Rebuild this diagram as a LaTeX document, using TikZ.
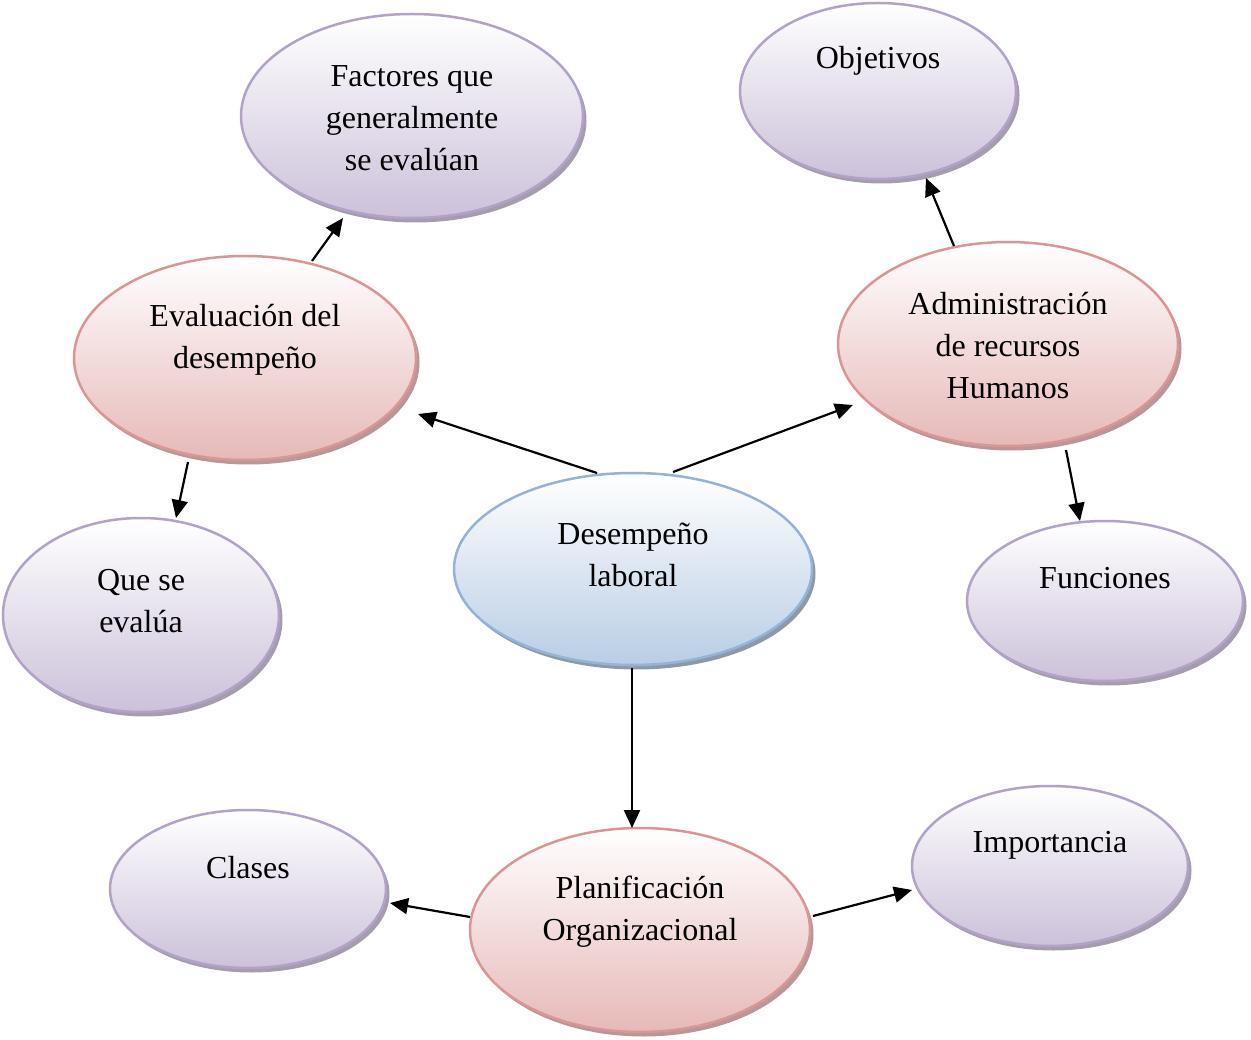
\documentclass[tikz,border=0pt]{standalone}
\usepackage{fontspec}
\setmainfont{Liberation Serif}
\usetikzlibrary{shapes.geometric,shadows,arrows.meta,calc}
\definecolor{pborder}{HTML}{B2A2C7}
\definecolor{pfill}{HTML}{CCC1DA}
\definecolor{rborder}{HTML}{D99694}
\definecolor{rfill}{HTML}{E6B9B8}
\definecolor{bborder}{HTML}{95B3D7}
\definecolor{bfill}{HTML}{B9CDE5}
\tikzset{
  ell/.style={ellipse, line width=2.5pt, outer sep=0pt, inner sep=0pt},
  purp/.style={ell, draw=pborder, top color=white, bottom color=pfill,
    drop shadow={shadow xshift=3.5pt, shadow yshift=-4.5pt, fill=pborder!65!black, opacity=0.65}},
  redd/.style={ell, draw=rborder, top color=white, bottom color=rfill,
    drop shadow={shadow xshift=3.5pt, shadow yshift=-4.5pt, fill=rborder!65!black, opacity=0.65}},
  blue/.style={ell, draw=bborder, top color=white, bottom color=bfill,
    drop shadow={shadow xshift=3.5pt, shadow yshift=-4.5pt, fill=bborder!55!black, opacity=0.65}},
  txt/.style={align=center, font=\fontsize{32}{42}\selectfont, inner sep=0pt},
  arr/.style={line width=2.2pt, -{Triangle[length=18pt,width=16pt]}}
}
\begin{document}
\begin{tikzpicture}[x=1pt,y=-1pt]
\useasboundingbox (0,0) rectangle (1251,1040);
% nodes
\node[purp, minimum width=342pt, minimum height=204pt,
  label={[txt, yshift=-2pt]center:Factores que\\generalmente\\se evalúan}] (fa) at (412,116) {};
\node[purp, minimum width=276pt, minimum height=176pt,
  label={[txt, yshift=30pt]center:Objetivos}] (ob) at (878,91) {};
\node[redd, minimum width=342pt, minimum height=204pt,
  label={[txt, yshift=18pt]center:Evaluación del\\desempeño}] (ev) at (245,358) {};
\node[redd, minimum width=340pt, minimum height=204pt,
  label={[txt, yshift=-2pt]center:Administración\\de recursos\\Humanos}] (ad) at (1008,344) {};
\node[purp, minimum width=276pt, minimum height=194pt,
  label={[txt, yshift=14pt]center:Que se\\evalúa}] (qs) at (141,615) {};
\node[blue, minimum width=358pt, minimum height=192pt,
  label={[txt, yshift=14pt]center:Desempeño\\laboral}] (dl) at (633,569) {};
\node[purp, minimum width=276pt, minimum height=160pt,
  label={[txt, yshift=23pt]center:Funciones}] (fu) at (1105,601) {};
\node[purp, minimum width=276pt, minimum height=158pt,
  label={[txt, yshift=21pt]center:Clases}] (cl) at (248,889) {};
\node[redd, minimum width=340pt, minimum height=204pt,
  label={[txt, yshift=18pt]center:Planificación\\Organizacional}] (pl) at (640,930) {};
\node[purp, minimum width=276pt, minimum height=160pt,
  label={[txt, yshift=21pt]center:Importancia}] (im) at (1050,866) {};
% connectors
\draw[arr] ($(dl.center)+(-36,-96)$) -- ($(ev.center)+(173,56)$);
\draw[arr] ($(dl.center)+(40,-97)$) -- ($(ad.center)+(-155,61)$);
\draw[arr] ($(dl.center)+(-1,99)$) -- ($(pl.center)+(-8,-102)$);
\draw[arr] ($(ev.center)+(67,-97)$) -- ($(fa.center)+(-69,102)$);
\draw[arr] ($(ev.center)+(-57,104)$) -- ($(qs.center)+(35,-97)$);
\draw[arr] ($(ad.center)+(-54,-98)$) -- ($(ob.center)+(48,87)$);
\draw[arr] ($(ad.center)+(58,106)$) -- ($(fu.center)+(-25,-80)$);
\draw[arr] ($(pl.center)+(-170,-13)$) -- ($(cl.center)+(142,14)$);
\draw[arr] ($(pl.center)+(173,-14)$) -- ($(im.center)+(-138,24)$);
\end{tikzpicture}
\end{document}
